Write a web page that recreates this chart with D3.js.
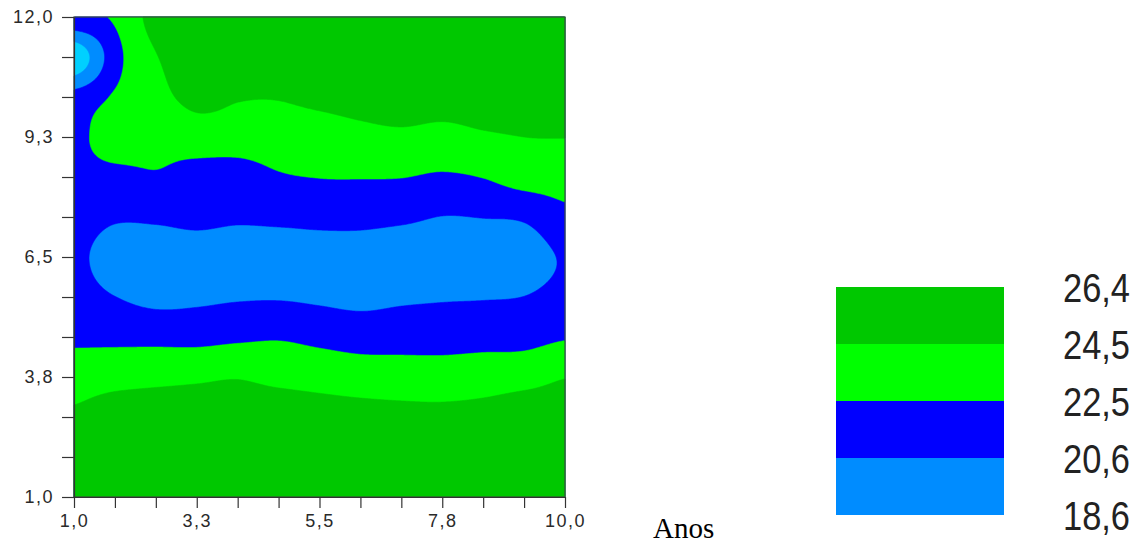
<!DOCTYPE html>
<html>
<head>
<meta charset="utf-8">
<script src="https://cdn.jsdelivr.net/npm/d3@7"></script>
<style>
  html, body { margin: 0; background: #ffffff; }
  svg { display: block; }
</style>
</head>
<body>
<svg id="chart" width="1143" height="547"></svg>
<script>
// ---- data -------------------------------------------------------------
// grid nodes: years (columns) and months (rows, listed from the top edge down)
const gridYears = [1, 1.75, 2.5, 3.25, 4, 4.75, 5.5, 6.25, 7, 7.75, 8.5, 9.25, 10];
const gridMonths = [12, 11.083, 10.167, 9.25, 8.333, 7.417, 6.5, 5.583, 4.667, 3.75, 2.833, 1.917, 1];

// temperature at each grid node, one row per entry of gridMonths
const temperature = [
  [22.33, 22.7, 25.2, 25.4, 25.5, 25.6, 25.6, 25.7, 25.8, 25.8, 25.9, 25.9, 25.8],
  [17.0, 21.76, 24.4, 25.2, 25.1, 25.1, 25.3, 25.5, 25.7, 25.6, 25.8, 25.7, 25.5],
  [21.3, 22.71, 23.9, 25.0, 24.61, 24.57, 24.89, 25.23, 25.61, 25.38, 25.5, 25.3, 25.0],
  [21.9, 23.55, 23.0, 23.45, 23.5, 23.6, 23.6, 23.9, 24.08, 23.85, 24.25, 24.5, 24.53],
  [21.9, 21.87, 22.33, 21.76, 21.6, 22.31, 22.54, 22.57, 22.54, 22.28, 22.55, 23.29, 23.25],
  [21.4, 20.8, 20.86, 21.03, 20.85, 21.02, 21.13, 21.14, 20.96, 20.56, 20.65, 20.85, 22.05],
  [21.0, 19.8, 19.7, 19.8, 19.6, 19.5, 19.72, 19.7, 19.37, 19.4, 19.4, 19.6, 20.8],
  [21.3, 20.62, 20.13, 20.27, 20.43, 20.46, 20.3, 20.1, 20.3, 20.43, 20.49, 20.62, 21.2],
  [22.13, 22.07, 22.0, 21.93, 22.16, 22.33, 22.02, 21.76, 21.79, 21.81, 21.9, 21.88, 22.34],
  [23.6, 23.8, 24.0, 24.2, 24.4, 24.0, 23.74, 23.48, 23.39, 23.35, 23.5, 23.79, 24.43],
  [24.8, 25.55, 25.67, 25.53, 25.4, 25.67, 25.43, 25.25, 25.1, 25.05, 25.24, 25.68, 25.4],
  [25.3, 25.7, 25.75, 25.7, 25.7, 25.75, 25.7, 25.6, 25.5, 25.5, 25.5, 25.7, 25.6],
  [25.8, 25.8, 25.8, 25.8, 25.8, 25.8, 25.8, 25.8, 25.8, 25.8, 25.8, 25.8, 25.8]
];

// contour levels (legend, top to bottom) and fill colours
const legendLevels = [26.4, 24.5, 22.5, 20.6, 18.6];
const legendLabels = ["26,4", "24,5", "22,5", "20,6", "18,6"];
const bandThresholds = [18.6, 20.6, 22.5, 24.5];
const bandColors = ["#008cff", "#0000ff", "#00ff00", "#00c800"];
const lowestColor = "#00d0ff";

// axis ticks
const xTickValues = [1, 1.75, 2.5, 3.25, 4, 4.75, 5.5, 6.25, 7, 7.75, 8.5, 9.25, 10];
const xTickLabels = ["1,0", "", "", "3,3", "", "", "5,5", "", "", "7,8", "", "", "10,0"];
const yTickValues = [1, 1.917, 2.833, 3.75, 4.667, 5.583, 6.5, 7.417, 8.333, 9.25, 10.167, 11.083, 12];
const yTickLabels = ["1,0", "", "", "3,8", "", "", "6,5", "", "", "9,3", "", "", "12,0"];

// ---- layout -----------------------------------------------------------
const plot = { left: 74, right: 565, top: 17, bottom: 497 };
const svg = d3.select("#chart");

const xScale = d3.scaleLinear().domain([1, 10]).range([plot.left, plot.right]);
const yScale = d3.scaleLinear().domain([1, 12]).range([plot.bottom, plot.top]);

// ---- contour field ----------------------------------------------------
const W = Math.round(plot.right - plot.left);
const H = Math.round(plot.bottom - plot.top);
const rasterToYear = d3.scaleLinear().domain([0, W]).range([1, 10]);
const rasterToMonth = d3.scaleLinear().domain([0, H]).range([12, 1]);
const yearToCol = d3.scaleLinear().domain(d3.extent(gridYears)).range([0, gridYears.length - 1]);
const monthToRow = d3.scaleLinear().domain([gridMonths[0], gridMonths[gridMonths.length - 1]])
  .range([0, gridMonths.length - 1]);

const nC = gridYears.length, nR = gridMonths.length;
function node(r, c) {
  r = Math.max(0, Math.min(nR - 1, r));
  c = Math.max(0, Math.min(nC - 1, c));
  return temperature[r][c];
}
function catmull(p0, p1, p2, p3, t) {
  return p1 + 0.5 * t * (p2 - p0 + t * (2 * p0 - 5 * p1 + 4 * p2 - p3 + t * (3 * (p1 - p2) + p3 - p0)));
}
function sample(fr, fc) {
  const r = Math.min(nR - 2, Math.max(0, Math.floor(fr)));
  const c = Math.min(nC - 2, Math.max(0, Math.floor(fc)));
  const tr = fr - r, tc = fc - c;
  const rowVals = [];
  for (let k = -1; k <= 2; k++) {
    rowVals.push(catmull(node(r + k, c - 1), node(r + k, c), node(r + k, c + 1), node(r + k, c + 2), tc));
  }
  return catmull(rowVals[0], rowVals[1], rowVals[2], rowVals[3], tr);
}

const field = new Float64Array(W * H);
for (let j = 0; j < H; j++) {
  const fr = monthToRow(rasterToMonth(j + 0.5));
  for (let i = 0; i < W; i++) {
    const fc = yearToCol(rasterToYear(i + 0.5));
    field[j * W + i] = sample(fr, fc);
  }
}

const contours = d3.contours().size([W, H]).thresholds(bandThresholds)(field);
const toScreen = d3.geoTransform({
  point: function (x, y) {
    this.stream.point(xScale(rasterToYear(x)), yScale(rasterToMonth(y)));
  }
});
const path = d3.geoPath(toScreen);

const gPlot = svg.append("g");
gPlot.append("rect")
  .attr("x", plot.left).attr("y", plot.top)
  .attr("width", plot.right - plot.left).attr("height", plot.bottom - plot.top)
  .attr("fill", lowestColor);
gPlot.selectAll("path.band")
  .data(contours)
  .join("path")
  .attr("class", "band")
  .attr("d", path)
  .attr("fill", (d, i) => bandColors[i])
  .attr("stroke", (d, i) => bandColors[i])
  .attr("stroke-width", 0.6);

// frame
svg.append("rect")
  .attr("x", plot.left).attr("y", plot.top)
  .attr("width", plot.right - plot.left).attr("height", plot.bottom - plot.top)
  .attr("fill", "none").attr("stroke", "#3d4a3d").attr("stroke-width", 1.2);

// ---- axes -------------------------------------------------------------
const tickFont = "'Liberation Sans', Arial, sans-serif";
const xAxis = d3.axisBottom(xScale)
  .tickValues(xTickValues)
  .tickFormat((d, i) => xTickLabels[i])
  .tickSize(11).tickSizeOuter(0).tickPadding(6);
const gx = svg.append("g").attr("transform", `translate(0,${plot.bottom})`).call(xAxis);

const yAxis = d3.axisLeft(yScale)
  .tickValues(yTickValues)
  .tickFormat((d, i) => yTickLabels[i])
  .tickSize(12).tickSizeOuter(0).tickPadding(8);
const gy = svg.append("g").attr("transform", `translate(${plot.left},0)`).call(yAxis);

[gx, gy].forEach(g => {
  g.select(".domain").attr("stroke", "#333").attr("stroke-width", 1.2);
  g.selectAll(".tick line").attr("stroke", "#333").attr("stroke-width", 1.2);
  g.selectAll(".tick text")
    .attr("fill", "#2a2a2a")
    .style("font-family", tickFont)
    .style("font-size", "18px")
    .style("letter-spacing", "1.5px");
});

// axis title
svg.append("text")
  .attr("x", 653).attr("y", 538)
  .attr("fill", "#000")
  .style("font-family", "'Liberation Serif', 'Times New Roman', serif")
  .style("font-size", "29px")
  .text("Anos");

// ---- legend -----------------------------------------------------------
const legendY = d3.scalePoint().domain(legendLevels).range([287, 515]);
const gLeg = svg.append("g");
gLeg.selectAll("rect")
  .data(legendLevels.slice(0, -1))
  .join("rect")
  .attr("x", 836).attr("width", 168)
  .attr("y", d => legendY(d))
  .attr("height", (d, i) => legendY(legendLevels[i + 1]) - legendY(d))
  .attr("fill", (d, i) => bandColors[bandColors.length - 1 - i]);

gLeg.selectAll("text")
  .data(legendLevels)
  .join("text")
  .attr("x", 1063)
  .attr("y", d => legendY(d) + 15)
  .attr("fill", "#222")
  .attr("textLength", 67)
  .attr("lengthAdjust", "spacingAndGlyphs")
  .style("font-family", tickFont)
  .style("font-size", "41px")
  .text((d, i) => legendLabels[i]);
</script>
</body>
</html>
